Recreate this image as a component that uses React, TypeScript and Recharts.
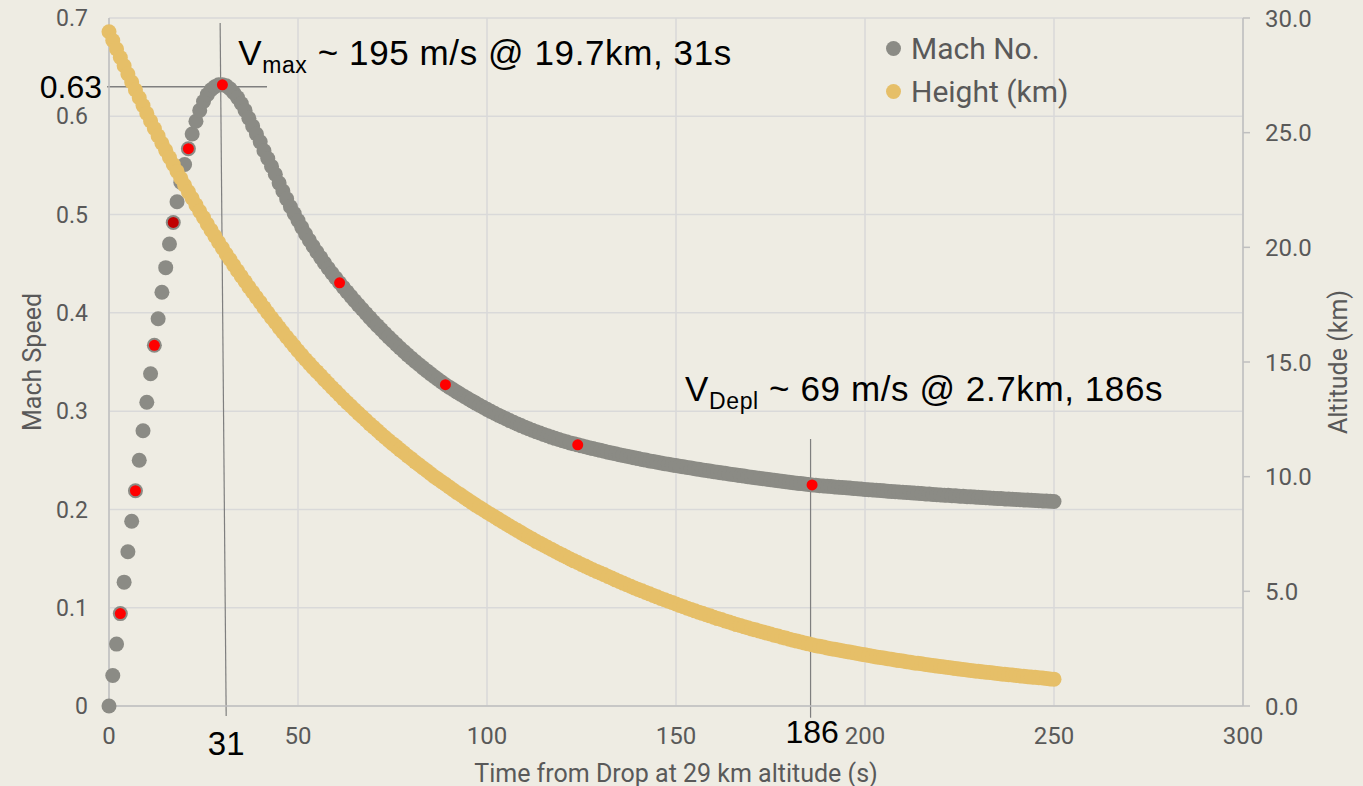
import React from 'react';
import {
  ScatterChart,
  Scatter,
  XAxis,
  YAxis,
  CartesianGrid,
  Legend,
  ReferenceLine,
  ReferenceDot,
} from 'recharts';

// one sample per second after the drop
const TIME_S = [
  0, 1, 2, 3, 4, 5, 6, 7, 8, 9, 10, 11, 12, 13, 14, 15, 16, 17, 18, 19,
  20, 21, 22, 23, 24, 25, 26, 27, 28, 29, 30, 31, 32, 33, 34, 35, 36, 37, 38, 39,
  40, 41, 42, 43, 44, 45, 46, 47, 48, 49, 50, 51, 52, 53, 54, 55, 56, 57, 58, 59,
  60, 61, 62, 63, 64, 65, 66, 67, 68, 69, 70, 71, 72, 73, 74, 75, 76, 77, 78, 79,
  80, 81, 82, 83, 84, 85, 86, 87, 88, 89, 90, 91, 92, 93, 94, 95, 96, 97, 98, 99,
  100, 101, 102, 103, 104, 105, 106, 107, 108, 109, 110, 111, 112, 113, 114, 115, 116, 117, 118, 119,
  120, 121, 122, 123, 124, 125, 126, 127, 128, 129, 130, 131, 132, 133, 134, 135, 136, 137, 138, 139,
  140, 141, 142, 143, 144, 145, 146, 147, 148, 149, 150, 151, 152, 153, 154, 155, 156, 157, 158, 159,
  160, 161, 162, 163, 164, 165, 166, 167, 168, 169, 170, 171, 172, 173, 174, 175, 176, 177, 178, 179,
  180, 181, 182, 183, 184, 185, 186, 187, 188, 189, 190, 191, 192, 193, 194, 195, 196, 197, 198, 199,
  200, 201, 202, 203, 204, 205, 206, 207, 208, 209, 210, 211, 212, 213, 214, 215, 216, 217, 218, 219,
  220, 221, 222, 223, 224, 225, 226, 227, 228, 229, 230, 231, 232, 233, 234, 235, 236, 237, 238, 239,
  240, 241, 242, 243, 244, 245, 246, 247, 248, 249, 250,
];

const MACH = [
  0, 0.031, 0.063, 0.094, 0.126, 0.157, 0.188, 0.219, 0.25, 0.28,
  0.309, 0.338, 0.367, 0.394, 0.421, 0.446, 0.47, 0.492, 0.513, 0.533,
  0.551, 0.567, 0.582, 0.595, 0.606, 0.615, 0.622, 0.627, 0.63, 0.632,
  0.632, 0.631, 0.628, 0.624, 0.619, 0.613, 0.606, 0.598, 0.59, 0.582,
  0.574, 0.565, 0.557, 0.549, 0.541, 0.532, 0.524, 0.516, 0.508, 0.501,
  0.494, 0.487, 0.4803, 0.4739, 0.4678, 0.4619, 0.4562, 0.4507, 0.4454, 0.4403,
  0.4354, 0.4306, 0.4259, 0.4213, 0.4168, 0.4123, 0.4079, 0.4036, 0.3993, 0.3951,
  0.391, 0.387, 0.383, 0.3791, 0.3753, 0.3716, 0.3679, 0.3643, 0.3608, 0.3573,
  0.3539, 0.3506, 0.3474, 0.3443, 0.3412, 0.3382, 0.3353, 0.3324, 0.3296, 0.3269,
  0.3244, 0.322, 0.3196, 0.3172, 0.3149, 0.3126, 0.3104, 0.3082, 0.306, 0.3039,
  0.3018, 0.2998, 0.2978, 0.2959, 0.294, 0.2922, 0.2904, 0.2887, 0.287, 0.2853,
  0.2837, 0.2821, 0.2806, 0.2791, 0.2777, 0.2763, 0.2749, 0.2736, 0.2723, 0.2711,
  0.2699, 0.2688, 0.2677, 0.2667, 0.2657, 0.2647, 0.2638, 0.2628, 0.2619, 0.261,
  0.2601, 0.2592, 0.2583, 0.2574, 0.2566, 0.2557, 0.2549, 0.2541, 0.2533, 0.2525,
  0.2517, 0.2509, 0.2502, 0.2494, 0.2487, 0.248, 0.2473, 0.2466, 0.2459, 0.2453,
  0.2446, 0.244, 0.2433, 0.2427, 0.2421, 0.2414, 0.2408, 0.2402, 0.2396, 0.239,
  0.2384, 0.2378, 0.2372, 0.2367, 0.2361, 0.2355, 0.235, 0.2344, 0.2339, 0.2333,
  0.2328, 0.2322, 0.2317, 0.2312, 0.2307, 0.2302, 0.2297, 0.2292, 0.2287, 0.2282,
  0.2277, 0.2272, 0.2267, 0.2263, 0.2258, 0.2253, 0.2249, 0.2246, 0.2242, 0.2239,
  0.2236, 0.2233, 0.2229, 0.2226, 0.2223, 0.222, 0.2217, 0.2213, 0.221, 0.2207,
  0.2204, 0.2201, 0.2198, 0.2195, 0.2192, 0.2189, 0.2186, 0.2183, 0.218, 0.2178,
  0.2175, 0.2172, 0.2169, 0.2166, 0.2164, 0.2161, 0.2158, 0.2156, 0.2153, 0.215,
  0.2148, 0.2145, 0.2143, 0.214, 0.2138, 0.2135, 0.2133, 0.213, 0.2128, 0.2126,
  0.2123, 0.2121, 0.2119, 0.2116, 0.2114, 0.2112, 0.211, 0.2107, 0.2105, 0.2103,
  0.2101, 0.2099, 0.2097, 0.2095, 0.2093, 0.2091, 0.2089, 0.2087, 0.2085, 0.2083,
  0.2081,
];

const HEIGHT_KM = [
  29.4, 29.02, 28.65, 28.28, 27.92, 27.56, 27.21, 26.86, 26.52, 26.18,
  25.84, 25.51, 25.18, 24.86, 24.54, 24.23, 23.92, 23.61, 23.31, 23.01,
  22.71, 22.42, 22.14, 21.85, 21.57, 21.3, 21.02, 20.75, 20.49, 20.22,
  19.97, 19.71, 19.47, 19.22, 18.98, 18.74, 18.51, 18.27, 18.05, 17.82,
  17.6, 17.37, 17.15, 16.93, 16.72, 16.5, 16.3, 16.09, 15.89, 15.69,
  15.49, 15.3, 15.11, 14.93, 14.75, 14.58, 14.41, 14.23, 14.06, 13.89,
  13.73, 13.56, 13.39, 13.23, 13.08, 12.92, 12.76, 12.61, 12.46, 12.3,
  12.16, 12.01, 11.86, 11.72, 11.58, 11.44, 11.31, 11.17, 11.04, 10.9,
  10.78, 10.64, 10.52, 10.39, 10.27, 10.14, 10.01, 9.9, 9.78, 9.67,
  9.55, 9.43, 9.31, 9.21, 9.09, 8.98, 8.87, 8.76, 8.66, 8.56,
  8.45, 8.35, 8.25, 8.15, 8.05, 7.95, 7.85, 7.75, 7.66, 7.56,
  7.46, 7.37, 7.28, 7.18, 7.1, 7.01, 6.92, 6.84, 6.75, 6.66,
  6.58, 6.5, 6.41, 6.33, 6.26, 6.17, 6.1, 6.02, 5.94, 5.87,
  5.8, 5.73, 5.65, 5.58, 5.5, 5.43, 5.36, 5.29, 5.22, 5.15,
  5.08, 5.02, 4.95, 4.89, 4.82, 4.76, 4.69, 4.63, 4.57, 4.51,
  4.45, 4.38, 4.33, 4.26, 4.21, 4.15, 4.09, 4.04, 3.98, 3.93,
  3.87, 3.81, 3.77, 3.71, 3.66, 3.61, 3.55, 3.51, 3.46, 3.41,
  3.36, 3.32, 3.27, 3.23, 3.18, 3.14, 3.09, 3.05, 3.0, 2.96,
  2.91, 2.87, 2.83, 2.79, 2.75, 2.71, 2.67, 2.63, 2.6, 2.57,
  2.53, 2.5, 2.47, 2.44, 2.41, 2.38, 2.35, 2.32, 2.29, 2.26,
  2.23, 2.2, 2.17, 2.14, 2.12, 2.09, 2.06, 2.04, 2.01, 1.98,
  1.96, 1.93, 1.91, 1.88, 1.86, 1.84, 1.81, 1.79, 1.77, 1.74,
  1.72, 1.7, 1.68, 1.66, 1.63, 1.61, 1.59, 1.57, 1.55, 1.53,
  1.51, 1.49, 1.47, 1.46, 1.44, 1.42, 1.4, 1.38, 1.36, 1.35,
  1.33, 1.31, 1.3, 1.28, 1.26, 1.25, 1.23, 1.22, 1.2, 1.18,
  1.17,
];

// points picked out in red on the Mach curve
const HIGHLIGHT_T = [3, 7, 12, 17, 21, 30, 61, 89, 124, 186];
const HIGHLIGHT_FILL = ['#FF0000', '#FF0000', '#FF0000', '#C00000', '#FF0000', '#FF0000', '#FF0000', '#FF0000', '#FF0000', '#FF0000'];

const SERIES_NAMES = ['Mach No.', 'Height (km)'];
const X_TICKS = [0, 50, 100, 150, 200, 250, 300];
const MACH_TICKS = [0, 0.1, 0.2, 0.3, 0.4, 0.5, 0.6, 0.7];
const ALT_TICKS = [0, 5, 10, 15, 20, 25, 30];

const BG = '#EEECE3';
const GRAY = '#8B8B85';
const GOLD = '#E6BF68';
const TXT = '#595959';
const AXIS = '#BFBFBF';
const GRID = '#D9D9D9';
const NOTE_LINE = '#7F7F7F';
const FONT = 'Roboto, sans-serif';
const NOTE_FONT = '"Liberation Sans", Arial, sans-serif';

const machData = TIME_S.map((t, i) => ({ t, mach: MACH[i] }));
const heightData = TIME_S.map((t, i) => ({ t, height: HEIGHT_KM[i] }));
const highlightData = HIGHLIGHT_T.map((t, i) => ({
  t,
  mach: MACH[TIME_S.indexOf(t)],
  fill: HIGHLIGHT_FILL[i],
}));

const MachDot = (p: any) => <circle cx={p.cx} cy={p.cy} r={7.5} fill={GRAY} />;
const HeightDot = (p: any) => <circle cx={p.cx} cy={p.cy} r={7.5} fill={GOLD} />;
const RedDot = (p: any) => <circle cx={p.cx} cy={p.cy} r={5.5} fill={p.payload.fill} />;

const LegendBox = (props: any) => {
  const items = (props.payload || [])
    .filter((e: any) => SERIES_NAMES.includes(e.value))
    .sort((a: any, b: any) => SERIES_NAMES.indexOf(a.value) - SERIES_NAMES.indexOf(b.value));
  return (
    <div style={{ fontFamily: FONT, fontSize: 30, color: TXT }}>
      {items.map((e: any) => (
        <div key={e.value} style={{ display: 'flex', alignItems: 'center', height: 43 }}>
          <span
            style={{
              width: 15,
              height: 15,
              borderRadius: '50%',
              background: e.color,
              marginRight: 10,
              display: 'inline-block',
            }}
          />
          {e.value}
        </div>
      ))}
    </div>
  );
};

// annotation text hung off a reference dot
const note = (render: (x: number, y: number) => React.ReactElement) => (props: any) => {
  const vb = props.viewBox || {};
  const x = vb.x + (vb.width || 0) / 2;
  const y = vb.y + (vb.height || 0) / 2;
  return render(x, y);
};

const App: React.FC = () => {
  return (
    <div style={{ position: 'absolute', left: 0, top: 0, width: 1363, height: 786, background: BG }}>
      <ScatterChart width={1363} height={786} margin={{ top: 18, right: 0, bottom: 0, left: 0 }}>
        <CartesianGrid yAxisId="left" stroke={GRID} strokeWidth={1.5} />
        <XAxis
          type="number"
          dataKey="t"
          domain={[0, 300]}
          ticks={X_TICKS}
          height={80}
          tickLine={false}
          tickMargin={15}
          axisLine={{ stroke: AXIS, strokeWidth: 1.5 }}
          tick={{ fill: TXT, fontSize: 24, fontFamily: FONT }}
          label={(p: any) => {
            const vb = p.viewBox;
            return (
              <text x={vb.x + vb.width / 2} y={vb.y + 67} textAnchor="middle" dominantBaseline="central" fill={TXT} fontSize={25} fontFamily={FONT}>
                Time from Drop at 29 km altitude (s)
              </text>
            );
          }}
        />
        <YAxis
          yAxisId="left"
          type="number"
          dataKey="mach"
          domain={[0, 0.7]}
          ticks={MACH_TICKS}
          width={109}
          tickLine={false}
          tickMargin={15}
          axisLine={{ stroke: AXIS, strokeWidth: 1.5 }}
          tick={{ fill: TXT, fontSize: 23, fontFamily: FONT }}
          tickFormatter={(v: number) => String(v)}
          label={(p: any) => {
            const vb = p.viewBox;
            const x = vb.x + 32;
            const y = vb.y + vb.height / 2;
            return (
              <text x={x} y={y} transform={`rotate(-90 ${x} ${y})`} textAnchor="middle" dominantBaseline="central" fill={TXT} fontSize={25} fontFamily={FONT}>
                Mach Speed
              </text>
            );
          }}
        />
        <YAxis
          yAxisId="right"
          orientation="right"
          type="number"
          dataKey="height"
          domain={[0, 30]}
          ticks={ALT_TICKS}
          width={120}
          tickSize={7}
          tickMargin={15}
          tickLine={{ stroke: AXIS, strokeWidth: 1.5 }}
          axisLine={{ stroke: AXIS, strokeWidth: 1.5 }}
          tick={{ fill: TXT, fontSize: 24, fontFamily: FONT }}
          tickFormatter={(v: number) => v.toFixed(1)}
          label={(p: any) => {
            const vb = p.viewBox;
            const x = vb.x + 95;
            const y = vb.y + vb.height / 2;
            return (
              <text x={x} y={y} transform={`rotate(-90 ${x} ${y})`} textAnchor="middle" dominantBaseline="central" fill={TXT} fontSize={25} fontFamily={FONT}>
                Altitude (km)
              </text>
            );
          }}
        />
        <Legend
          layout="horizontal"
          verticalAlign="middle"
          align="center"
          content={<LegendBox />}
          wrapperStyle={{ position: 'absolute', left: 886, top: 27, width: 'auto', height: 'auto' }}
        />
        <Scatter name="Mach No." data={machData} yAxisId="left" fill={GRAY} shape={MachDot} isAnimationActive={false} />
        <Scatter name="Height (km)" data={heightData} yAxisId="right" fill={GOLD} shape={HeightDot} isAnimationActive={false} />
        <Scatter name="Highlight" data={highlightData} yAxisId="left" fill="#FF0000" shape={RedDot} legendType="none" isAnimationActive={false} />

        <ReferenceLine
          yAxisId="left"
          segment={[{ x: 29.4, y: 0.695 }, { x: 31, y: -0.0102 }]}
          stroke={NOTE_LINE}
          strokeWidth={1.2}
          ifOverflow="visible"
        />
        <ReferenceLine
          yAxisId="left"
          segment={[{ x: -0.5, y: 0.63 }, { x: 41.8, y: 0.63 }]}
          stroke={NOTE_LINE}
          strokeWidth={1.5}
          ifOverflow="visible"
        />
        <ReferenceLine
          yAxisId="left"
          segment={[{ x: 185.6, y: 0.2716 }, { x: 185.6, y: -0.012 }]}
          stroke={NOTE_LINE}
          strokeWidth={1.2}
          ifOverflow="visible"
        />

        <ReferenceDot
          yAxisId="left"
          x={0}
          y={0.63}
          r={0}
          ifOverflow="visible"
          label={note((x, y) => (
            <text x={x - 7} y={y} textAnchor="end" dominantBaseline="central" fill="#000" fontSize={32} fontFamily={NOTE_FONT}>
              0.63
            </text>
          ))}
        />
        <ReferenceDot
          yAxisId="left"
          x={31}
          y={0}
          r={0}
          ifOverflow="visible"
          label={note((x, y) => (
            <text x={x} y={y + 37} textAnchor="middle" dominantBaseline="central" fill="#000" fontSize={33} fontFamily={NOTE_FONT}>
              31
            </text>
          ))}
        />
        <ReferenceDot
          yAxisId="left"
          x={186}
          y={0}
          r={0}
          ifOverflow="visible"
          label={note((x, y) => (
            <text x={x} y={y + 26} textAnchor="middle" dominantBaseline="central" fill="#000" fontSize={32} fontFamily={NOTE_FONT}>
              186
            </text>
          ))}
        />
        <ReferenceDot
          yAxisId="left"
          x={31}
          y={0.63}
          r={0}
          ifOverflow="visible"
          label={note((x, y) => (
            <text x={x + 12} y={y - 22} fill="#000" fontSize={35} letterSpacing={0.6} fontFamily={NOTE_FONT}>
              V<tspan fontSize={23} dy={8}>max</tspan>
              <tspan dy={-8}> ~ 195 m/s @ 19.7km, 31s</tspan>
            </text>
          ))}
        />
        <ReferenceDot
          yAxisId="left"
          x={186}
          y={0.27}
          r={0}
          ifOverflow="visible"
          label={note((x, y) => (
            <text x={x - 127} y={y - 40} fill="#000" fontSize={35} letterSpacing={0.6} fontFamily={NOTE_FONT}>
              V<tspan fontSize={23} dy={8}>Depl</tspan>
              <tspan dy={-8}> ~ 69 m/s @ 2.7km, 186s</tspan>
            </text>
          ))}
        />
      </ScatterChart>
    </div>
  );
};

export default App;
